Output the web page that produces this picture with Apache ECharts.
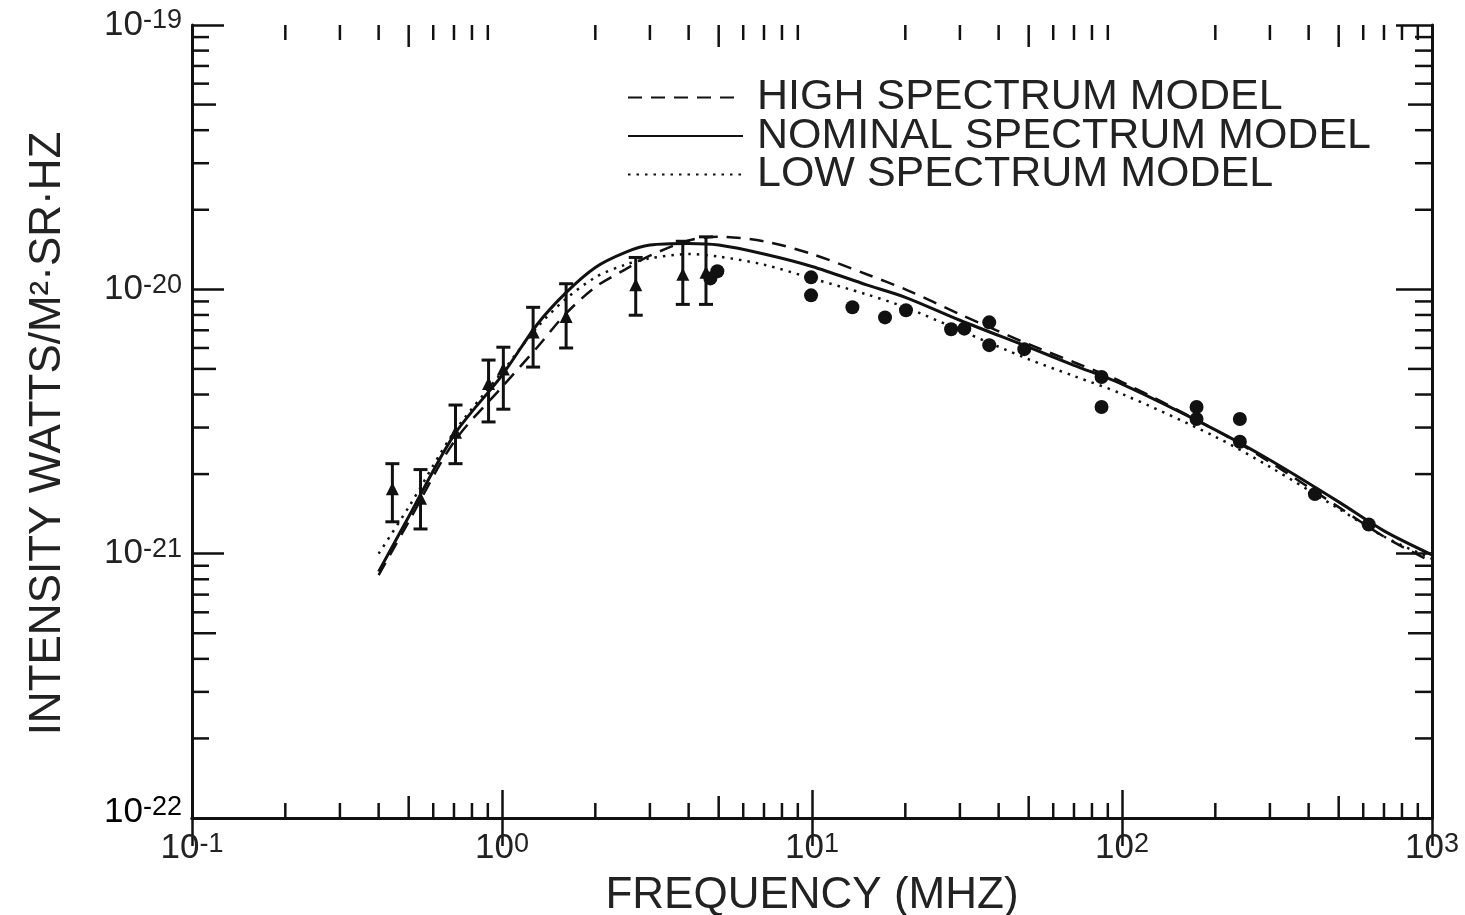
<!DOCTYPE html>
<html>
<head>
<meta charset="utf-8">
<script src="https://cdn.jsdelivr.net/npm/echarts@6/dist/echarts.min.js"></script>
<style>
html,body{margin:0;padding:0;background:#fff;}
#chart{width:1465px;height:915px;}
</style>
</head>
<body>
<div id="chart"></div>
<script>
// ---- Data ----
const xTicks = [0.1, 1, 10, 100, 1000];
const yTicks = [1e-22, 1e-21, 1e-20, 1e-19];
const legendNames = ['HIGH SPECTRUM MODEL', 'NOMINAL SPECTRUM MODEL', 'LOW SPECTRUM MODEL'];

const modelFreq = [0.4, 0.5, 0.7, 1.0, 1.3, 1.6, 2.0, 2.5, 3.0, 4.0, 5.0, 7.0, 10, 15, 20, 30, 50, 70, 100, 200, 300, 500, 700, 1000];
const highModel = [8.3e-22, 1.32e-21, 2.65e-21, 4.27e-21, 6.04e-21, 8.05e-21, 1.02e-20, 1.19e-20, 1.34e-20, 1.53e-20, 1.58e-20, 1.52e-20, 1.36e-20, 1.14e-20, 1.0e-20, 8.05e-21, 6.2e-21, 5.3e-21, 4.46e-21, 2.94e-21, 2.22e-21, 1.5e-21, 1.16e-21, 9.3e-22];
const nominalModel = [8.55e-22, 1.38e-21, 2.81e-21, 4.73e-21, 7.38e-21, 9.66e-21, 1.21e-20, 1.38e-20, 1.47e-20, 1.49e-20, 1.47e-20, 1.36e-20, 1.22e-20, 1.04e-20, 9.33e-21, 7.64e-21, 6.04e-21, 5.16e-21, 4.38e-21, 2.94e-21, 2.26e-21, 1.57e-21, 1.22e-21, 9.9e-22];
const lowModel = [1.0e-21, 1.5e-21, 2.88e-21, 4.86e-21, 7.19e-21, 9.16e-21, 1.11e-20, 1.24e-20, 1.31e-20, 1.36e-20, 1.33e-20, 1.24e-20, 1.1e-20, 9.57e-21, 8.55e-21, 7.0e-21, 5.44e-21, 4.7e-21, 4.02e-21, 2.77e-21, 2.13e-21, 1.48e-21, 1.16e-21, 9.57e-22];

// measurements with error bars: frequency, value, low, high
const ebFreq = [0.443, 0.546, 0.708, 0.905, 1.01, 1.26, 1.61, 2.70, 3.83, 4.55];
const ebValue = [1.76e-21, 1.62e-21, 2.88e-21, 4.4e-21, 5.0e-21, 6.89e-21, 7.9e-21, 1.04e-20, 1.14e-20, 1.16e-20];
const ebLow = [1.32e-21, 1.24e-21, 2.19e-21, 3.15e-21, 3.52e-21, 5.08e-21, 6.0e-21, 7.98e-21, 8.77e-21, 8.77e-21];
const ebHigh = [2.19e-21, 2.08e-21, 3.65e-21, 5.4e-21, 6.04e-21, 8.55e-21, 1.05e-20, 1.32e-20, 1.52e-20, 1.58e-20];

// measurements without error bars (filled circles)
const ptFreq = [4.7, 4.95, 9.93, 9.93, 13.5, 17.2, 20.1, 28.1, 31.0, 37.3, 37.3, 48.4, 85.9, 85.9, 174, 174, 240, 240, 419, 625];
const ptValue = [1.1e-20, 1.17e-20, 1.11e-20, 9.49e-21, 8.55e-21, 7.83e-21, 8.33e-21, 7.06e-21, 7.1e-21, 7.5e-21, 6.15e-21, 5.94e-21, 4.66e-21, 3.59e-21, 3.59e-21, 3.23e-21, 3.23e-21, 2.65e-21, 1.68e-21, 1.29e-21];

const minorMult = [2, 3, 4, 5, 6, 7, 8, 9];

// ---- Build ----
const zip = (a, b) => a.map((v, i) => [v, b[i]]);
const ebData = ebFreq.map((f, i) => [f, ebLow[i], ebHigh[i]]);
const FONT = '"Liberation Sans", Arial, sans-serif';

function powLabel(v) {
  const e = Math.round(Math.log10(v));
  return '{b|10}{s|' + e + '}';
}
const richLabel = {
  b: {fontSize: 35, fontFamily: FONT, color: '#222', verticalAlign: 'bottom', lineHeight: 35},
  s: {fontSize: 27, fontFamily: FONT, color: '#222', verticalAlign: 'top', lineHeight: 24}
};

const chart = echarts.init(document.getElementById('chart'));

function minorTicksRender(params, api) {
  if (params.dataIndex !== 0) return;
  const children = [];
  const style = {stroke: '#111', lineWidth: 2.5};
  const xDec = xTicks.slice(0, -1);
  const yDec = yTicks.slice(0, -1);
  const y0 = yTicks[0], y1 = yTicks[yTicks.length - 1];
  const x0 = xTicks[0], x1 = xTicks[xTicks.length - 1];
  xDec.forEach(d => {
    minorMult.forEach(m => {
      const v = d * m;
      const len = m === 5 ? 22 : 15;
      const pb = api.coord([v, y0]);
      const pt = api.coord([v, y1]);
      children.push({type: 'line', shape: {x1: pb[0], y1: pb[1], x2: pb[0], y2: pb[1] - len}, style});
      children.push({type: 'line', shape: {x1: pt[0], y1: pt[1], x2: pt[0], y2: pt[1] + len}, style});
    });
  });
  yDec.forEach(d => {
    minorMult.forEach(m => {
      const v = d * m;
      const len = m === 5 ? 24 : 17;
      const pl = api.coord([x0, v]);
      const pr = api.coord([x1, v]);
      children.push({type: 'line', shape: {x1: pl[0], y1: pl[1], x2: pl[0] + len, y2: pl[1]}, style});
      children.push({type: 'line', shape: {x1: pr[0], y1: pr[1], x2: pr[0] - len, y2: pr[1]}, style});
    });
  });
  return {type: 'group', children};
}

function errorBarRender(params, api) {
  const x = api.value(0);
  const lo = api.coord([x, api.value(1)]);
  const hi = api.coord([x, api.value(2)]);
  const w = 7;
  const style = {stroke: '#111', lineWidth: 3};
  return {
    type: 'group',
    children: [
      {type: 'line', shape: {x1: lo[0], y1: lo[1], x2: hi[0], y2: hi[1]}, style},
      {type: 'line', shape: {x1: lo[0] - w, y1: lo[1], x2: lo[0] + w, y2: lo[1]}, style},
      {type: 'line', shape: {x1: hi[0] - w, y1: hi[1], x2: hi[0] + w, y2: hi[1]}, style}
    ]
  };
}

const axisCommon = {
  axisLine: {show: true, lineStyle: {color: '#111', width: 3}},
  splitLine: {show: false},
  minorTick: {show: false}
};

const option = {
  backgroundColor: '#fff',
  animation: false,
  grid: {left: 192, right: 33, top: 25, bottom: 97, show: false, containLabel: false, outerBoundsMode: 'none'},
  legend: {
    data: legendNames,
    orient: 'vertical',
    left: 622,
    top: 71,
    itemWidth: 115,
    itemHeight: 14,
    itemGap: -4.5,
    selectedMode: false,
    itemStyle: {opacity: 0},
    textStyle: {fontSize: 43, fontFamily: FONT, color: '#222', lineHeight: 38, padding: [0, 0, 0, 9]}
  },
  xAxis: [
    Object.assign({
      type: 'log', logBase: 10, min: xTicks[0], max: xTicks[xTicks.length - 1],
      position: 'bottom',
      name: 'FREQUENCY (MHZ)', nameLocation: 'middle', nameGap: 56, nameMoveOverlap: false,
      nameTextStyle: {fontSize: 44, fontFamily: FONT, color: '#222'},
      axisTick: {show: true, inside: true, length: 28, lineStyle: {color: '#111', width: 2.5}},
      axisLabel: {formatter: powLabel, rich: richLabel, margin: 13, showMinLabel: true, showMaxLabel: true, hideOverlap: false}
    }, axisCommon),
    Object.assign({
      type: 'log', logBase: 10, min: xTicks[0], max: xTicks[xTicks.length - 1],
      position: 'top',
      axisTick: {show: true, inside: true, length: 28, lineStyle: {color: '#111', width: 2.5}},
      axisLabel: {show: false}
    }, axisCommon)
  ],
  yAxis: [
    Object.assign({
      type: 'log', logBase: 10, min: yTicks[0], max: yTicks[yTicks.length - 1],
      position: 'left',
      name: 'INTENSITY WATTS/M²·SR·HZ', nameLocation: 'middle', nameGap: 122, nameRotate: 90, nameMoveOverlap: false,
      nameTextStyle: {fontSize: 44, fontFamily: FONT, color: '#222', padding: [0, 24, 0, 0]},
      axisTick: {show: true, inside: true, length: 32, lineStyle: {color: '#111', width: 2.5}},
      axisLabel: {formatter: powLabel, rich: richLabel, margin: 10, showMinLabel: true, showMaxLabel: true, hideOverlap: false}
    }, axisCommon),
    Object.assign({
      type: 'log', logBase: 10, min: yTicks[0], max: yTicks[yTicks.length - 1],
      position: 'right',
      axisTick: {show: true, inside: true, length: 36, lineStyle: {color: '#111', width: 2.5}},
      axisLabel: {show: false}
    }, axisCommon)
  ],
  series: [
    {
      name: legendNames[0], type: 'line', data: zip(modelFreq, highModel),
      smooth: 0.3, symbol: 'none', showSymbol: false,
      lineStyle: {color: '#111', width: 2.5, type: [14, 9]}, itemStyle: {color: '#111'}, z: 3
    },
    {
      name: legendNames[1], type: 'line', data: zip(modelFreq, nominalModel),
      smooth: 0.3, symbol: 'none', showSymbol: false,
      lineStyle: {color: '#111', width: 3, type: 'solid'}, itemStyle: {color: '#111'}, z: 3
    },
    {
      name: legendNames[2], type: 'line', data: zip(modelFreq, lowModel),
      smooth: 0.3, symbol: 'none', showSymbol: false,
      lineStyle: {color: '#111', width: 2.5, type: [2.5, 6]}, itemStyle: {color: '#111'}, z: 3
    },
    {
      type: 'custom', renderItem: errorBarRender, data: ebData,
      encode: {x: 0, y: [1, 2]}, z: 4, silent: true
    },
    {
      type: 'scatter', data: zip(ebFreq, ebValue), symbol: 'triangle', symbolSize: 13,
      itemStyle: {color: '#111', opacity: 1}, z: 5, silent: true
    },
    {
      type: 'scatter', data: zip(ptFreq, ptValue), symbol: 'circle', symbolSize: 14,
      itemStyle: {color: '#111', opacity: 1}, z: 5, silent: true
    },
    {
      type: 'custom', renderItem: minorTicksRender, data: [[xTicks[1], yTicks[1]]],
      z: 2, silent: true, clip: false
    }
  ]
};
chart.setOption(option);

// The library hides the lowest y label where it meets the x axis labels; add it back at its scale position.
const minPos = chart.convertToPixel({gridIndex: 0}, [xTicks[0], yTicks[0]]);
chart.setOption({
  graphic: [{
    type: 'text',
    x: minPos[0] - 10,
    y: minPos[1] - 6,
    silent: true,
    style: {
      text: powLabel(yTicks[0]),
      rich: richLabel,
      align: 'right',
      verticalAlign: 'middle'
    }
  }]
});
</script>
</body>
</html>
